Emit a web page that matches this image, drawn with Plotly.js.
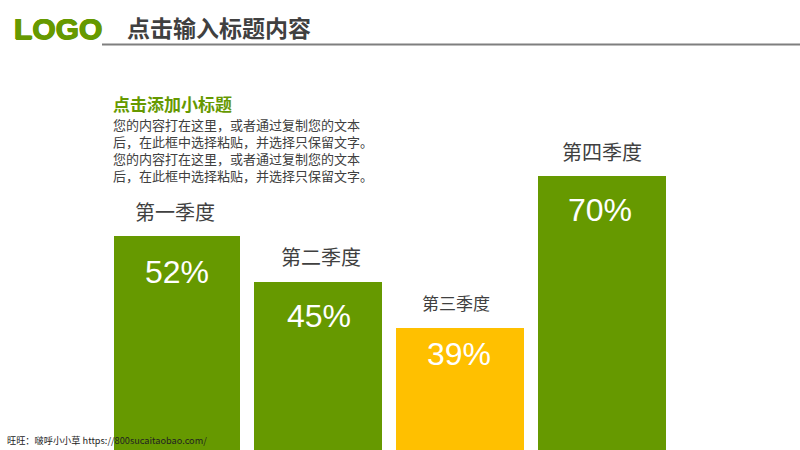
<!DOCTYPE html>
<html>
<head>
<meta charset="utf-8">
<script src="https://cdn.plot.ly/plotly-3.0.0.min.js"></script>
<style>html,body{margin:0;padding:0;background:#fff}#c{width:800px;height:450px}</style>
</head>
<body>
<div id="c"></div>
<script>
var categories = ['第一季度', '第二季度', '第三季度', '第四季度'];
var percentLabels = ['52%', '45%', '39%', '70%'];
var barHeights = [214, 168, 122, 274];
var barColors = ['#669900', '#669900', '#FFC000', '#669900'];
var catFontSizes = [20, 20, 17, 20];
var catShiftX = [-1, 3, -4, 0];
var catShiftY = [8, 9, 11, 8];
var pctShiftX = [1, 1, -1, -2];
var pctShiftY = [-36, -34, -26, -34];
var bodyLines = [
  '您的内容打在这里，或者通过复制您的文本',
  '后，在此框中选择粘贴，并选择只保留文字。',
  '您的内容打在这里，或者通过复制您的文本',
  '后，在此框中选择粘贴，并选择只保留文字。'
];
var barPx = [126, 128, 128, 128];
var barOffsetPx = [-62, -64, -64, -64];
var CJK = '"Noto Sans CJK SC", sans-serif';
var W = 800, H = 450, pitch = 142, firstCentre = 176;
function px(x){return x/W;}
function py(y){return 1-y/H;}
function label(text, x, y, size, color, font, extra){
  return Object.assign({text:text, xref:'paper', yref:'paper', x:px(x), y:py(y),
    xanchor:'left', yanchor:'middle', align:'left', showarrow:false,
    font:Object.assign({family:font||CJK, size:size, color:color}, (extra||{}).fontExtra||{}), borderpad:0});
}
var ann = [
  label('<b>LOGO</b>', 13, 29, 30, '#669900', '"Liberation Sans", Arial, sans-serif',
    {fontExtra:{shadow:'0.7px 0 0 #669900, -0.7px 0 0 #669900, 0 0.5px 0 #669900, 0 -0.5px 0 #669900'}}),
  label('<b>点击输入标题内容</b>', 126, 27, 23, '#404040'),
  label('<b>点击添加小标题</b>', 112, 103, 17, '#669900'),
  label(bodyLines.join('<br>'), 112, 150, 13, '#404040'),
  label('旺旺：啵呼小小草 https://800sucaitaobao.com/', 6, 440, 9.2, '#222222')
];
categories.forEach(function(c, i){
  ann.push({x:c, y:barHeights[i], xref:'x', yref:'y', text:c, showarrow:false, yanchor:'bottom',
    xshift:catShiftX[i], yshift:catShiftY[i], font:{family:CJK, size:catFontSizes[i], color:'#404040'}});
  ann.push({x:c, y:barHeights[i], xref:'x', yref:'y', text:percentLabels[i], showarrow:false, yanchor:'middle',
    xshift:pctShiftX[i], yshift:pctShiftY[i], font:{family:'"Liberation Sans", Arial, sans-serif', size:32, color:'#ffffff'}});
});
Plotly.newPlot('c', [{
  type:'bar', x:categories, y:barHeights,
  width:barPx.map(function(v){return v/pitch;}),
  offset:barOffsetPx.map(function(v){return v/pitch;}),
  marker:{color:barColors, line:{width:0}}, hoverinfo:'skip'
}], {
  width:W, height:H, margin:{l:0,r:0,t:0,b:0},
  paper_bgcolor:'#ffffff', plot_bgcolor:'#ffffff', showlegend:false,
  xaxis:{type:'category', range:[-firstCentre/pitch, (W-firstCentre)/pitch], visible:false, fixedrange:true},
  yaxis:{range:[0,450], visible:false, fixedrange:true},
  annotations:ann,
  shapes:[{type:'line', xref:'paper', yref:'paper', x0:px(102), x1:1, y0:py(44.5), y1:py(44.5),
    line:{color:'#7f7f7f', width:2}}]
}, {displayModeBar:false, staticPlot:true});
</script>
</body>
</html>
